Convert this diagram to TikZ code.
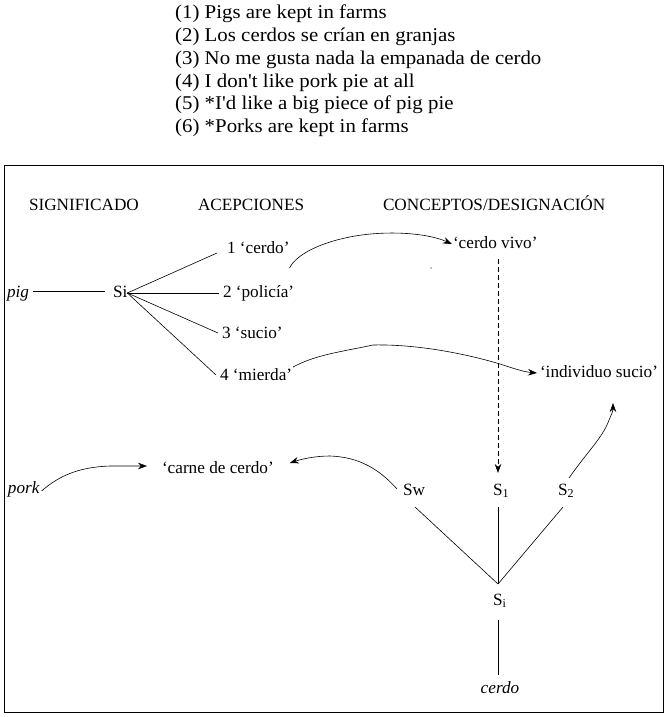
\documentclass[tikz,border=0pt]{standalone}
\usepackage{fontspec}
\setmainfont{Liberation Serif}
\newfontfamily\toplist[FakeStretch=1.07]{Liberation Serif}
\usetikzlibrary{arrows.meta,calc}
\begin{document}
\begin{tikzpicture}[x=1pt,y=-1pt,
  txt/.style={font=\fontsize{17.2}{20}\selectfont, inner sep=0pt, outer sep=0pt, anchor=base west},
  lst/.style={font=\toplist\fontsize{19.5}{23}\selectfont, inner sep=0pt, anchor=base west},
  ln/.style={line width=0.6pt},
  arr/.style={line width=0.6pt, -{Stealth[length=9pt,width=6.5pt]}},
  dsh/.style={line width=0.7pt, dash pattern=on 5pt off 3pt, -{Stealth[length=9pt,width=6.5pt]}},
  frame/.style={line width=1pt}]
\useasboundingbox (0,0) rectangle (668,717);
\draw[frame] (4,165) rectangle (663,712);
% top list
\node[lst] (l1) at (175,18.5) {(1) Pigs are kept in farms};
\node[lst] (l2) at (175,41.35) {(2) Los cerdos se crían en granjas};
\node[lst] (l3) at (175,64.2) {(3) No me gusta nada la empanada de cerdo};
\node[lst] (l4) at (175,87.05) {(4) I don't like pork pie at all};
\node[lst] (l5) at (175,109.9) {(5) *I'd like a big piece of pig pie};
\node[lst] (l6) at (175,132.75) {(6) *Porks are kept in farms};
% headers
\node[txt] (hsig) at (29,210) {SIGNIFICADO};
\node[txt] (hace) at (198,210) {ACEPCIONES};
\node[txt] (hcon) at (383,210) {CONCEPTOS/DESIGNACIÓN};
% nodes
\node[txt] (pig) at (7,297) {\itshape pig};
\node[txt] (si) at (113,297) {Si};
\node[txt] (a1) at (227,253) {1 `cerdo'};
\node[txt] (a2) at (223,297) {2 `policía'};
\node[txt] (a3) at (222,338) {3 `sucio'};
\node[txt] (a4) at (220,380) {4 `mierda'};
\node[txt] (cv) at (453,248) {`cerdo vivo'};
\node[txt] (ind) at (540,377) {`individuo sucio'};
\node[txt] (carne) at (162,473) {`carne de cerdo'};
\node[txt] (pork) at (8,493) {\itshape pork};
\node[txt] (sw) at (403,495) {Sw};
\node[txt] (s1) at (493,495) {S\textsubscript{1}};
\node[txt] (s2) at (558,495) {S\textsubscript{2}};
\node[txt] (sib) at (493,605) {S\textsubscript{i}};
\node[txt, anchor=base] (cerdo) at (500,693) {\itshape cerdo};
% connectors
\coordinate (hub) at ($(si.base east)+(0,-4)$);
\draw[ln] ($(pig.base east)+(4,-6)$) -- ($(si.base west)+(-8,-6)$);
\draw[ln] (hub) -- ($(a1.base west)+(-10,0)$);
\draw[ln] (hub) -- ($(a2.base west)+(-4,-4)$);
\draw[ln] (hub) -- ($(a3.base west)+(-4,-5)$);
\draw[ln] (hub) -- ($(a4.base west)+(-4,-5)$);
\draw[arr] ($(a1.base east)+(0,15)$) .. controls (296,255) and (318,244) .. (345,238)
  .. controls (380,230) and (425,232) .. ($(cv.base west)+(-1,-4)$);
\draw[arr] ($(a4.base east)+(1,-13)$) .. controls (315,355) and (340,352) .. (373,345)
  .. controls (420,344) and (470,355) .. (500,364)
  .. controls (515,369) and (525,372) .. ($(ind.base west)+(-3,-4)$);
\draw[dsh] ($(s1.base west |- cv.base)+(5,11)$) -- ($(s1.base west)+(5,-22)$);
\draw[arr] ($(s2.base west)+(11,-17)$) .. controls (585,455) and (600,440) .. (607,425)
  .. controls (611,415) and (613,412) .. ($(ind.base west)+(73,26)$);
\draw[arr] ($(sw.base west)+(-6,-6)$) .. controls (380,470) and (360,457) .. (330,456)
  .. controls (315,456) and (302,459) .. ($(carne.base east)+(16,-10)$);
\draw[arr] ($(pork.base east)+(2,-2)$) .. controls (60,475) and (80,467) .. (110,466)
  -- ($(carne.base west)+(-15,-7)$);
\coordinate (join) at ($(sib.base west)+(5,-21)$);
\draw[ln] ($(sw.base west)+(12,12)$) -- (join);
\draw[ln] ($(s1.base west)+(5,12)$) -- (join);
\draw[ln] ($(s2.base west)+(5,12)$) -- (join);
\draw[ln] ($(sib.base west)+(5,15)$) -- ($(cerdo.base)+(-2,-18)$);
\fill (431,268) circle (0.6);
\end{tikzpicture}
\end{document}
